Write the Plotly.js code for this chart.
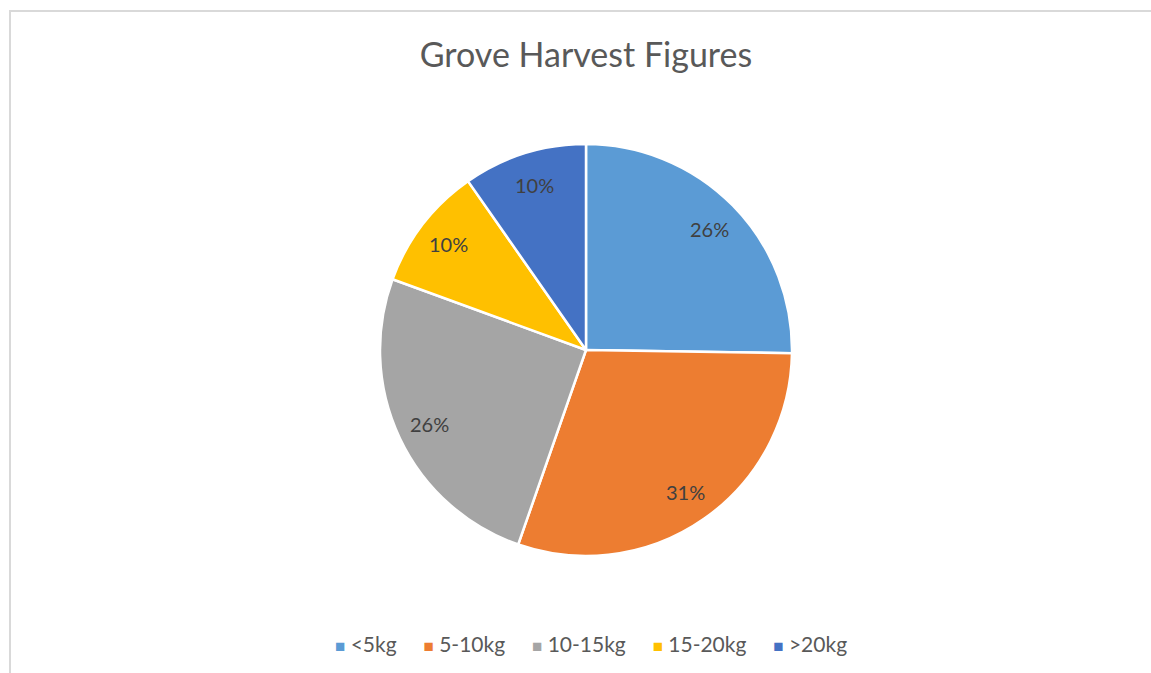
<!DOCTYPE html>
<html>
<head>
<meta charset="utf-8">
<script src="https://cdn.plot.ly/plotly-3.0.1.min.js"></script>
<style>
  html, body { margin: 0; padding: 0; background: #ffffff; }
  #wrap { position: relative; width: 1151px; height: 673px; overflow: hidden; }
  #chart { position: absolute; left: 0; top: 0; width: 1151px; height: 673px; }
  #frame { position: absolute; left: 9px; top: 10px; width: 1200px; height: 700px;
           border-left: 2px solid #d9d9d9; border-top: 2px solid #d9d9d9; pointer-events: none; }
</style>
</head>
<body>
<div id="wrap">
  <div id="chart"></div>
  <div id="frame"></div>
</div>
<script>
const categories = ["<5kg", "5-10kg", "10-15kg", "15-20kg", ">20kg"];
const shares = [0.26, 0.31, 0.26, 0.10, 0.10];
const colors = ["#5B9BD5", "#ED7D31", "#A5A5A5", "#FFC000", "#4472C4"];
const chartTitle = "Grove Harvest Figures";

const fontFam = "Lato, 'Open Sans', 'Noto Sans', sans-serif";

// Figure geometry (layout only)
const W = 1151, H = 673;
const M = { l: 21, r: 0, t: 144, b: 117 };
const plotW = W - M.l - M.r, plotH = H - M.t - M.b;
const pieR = Math.min(plotW, plotH) / 2;   // pixels
const labelFrac = 0.84;                     // label distance as fraction of radius

const total = shares.reduce((a, b) => a + b, 0);
const esc = s => s.replace(/</g, "&lt;").replace(/>/g, "&gt;");

// Data labels placed along each slice's mid-angle (clockwise from 12 o'clock)
const annotations = [];
let cum = 0;
shares.forEach((v, i) => {
  const mid = (cum + v / 2) / total * 2 * Math.PI;
  cum += v;
  const dx = Math.sin(mid) * pieR * labelFrac;
  const dy = Math.cos(mid) * pieR * labelFrac;
  annotations.push({
    xref: "paper", yref: "paper",
    x: 0.5 + dx / plotW, y: 0.5 + dy / plotH,
    text: Math.round(v * 100) + "%",
    showarrow: false, xanchor: "center", yanchor: "middle",
    font: { family: fontFam, size: 20, color: "#404040" }
  });
});

// Legend row built from the category and colour arrays
const sp = "\u00A0";
const legendText = categories.map((c, i) =>
  "<span style='color:" + colors[i] + ";font-size:17px'>\u25A0</span>" + sp + esc(c)
).join(sp.repeat(5));
annotations.push({
  xref: "paper", yref: "paper",
  x: (591 - M.l) / plotW, y: (H - M.b - 643) / plotH,
  xanchor: "center", yanchor: "middle",
  text: legendText, showarrow: false,
  font: { family: fontFam, size: 21, color: "#595959" }
});

const trace = {
  type: "pie",
  labels: categories,
  values: shares,
  sort: false,
  direction: "clockwise",
  rotation: 0,
  marker: { colors: colors, line: { color: "#ffffff", width: 2.5 } },
  textinfo: "none",
  hoverinfo: "label+percent"
};

const layout = {
  width: W,
  height: H,
  margin: M,
  paper_bgcolor: "#ffffff",
  plot_bgcolor: "#ffffff",
  title: {
    text: chartTitle,
    font: { family: fontFam, size: 34, color: "#595959" },
    x: 586 / W, xref: "container", xanchor: "center",
    y: 1 - 55 / H, yref: "container", yanchor: "middle"
  },
  showlegend: false,
  annotations: annotations
};

Plotly.newPlot("chart", [trace], layout, { displayModeBar: false, staticPlot: true });
</script>
</body>
</html>
